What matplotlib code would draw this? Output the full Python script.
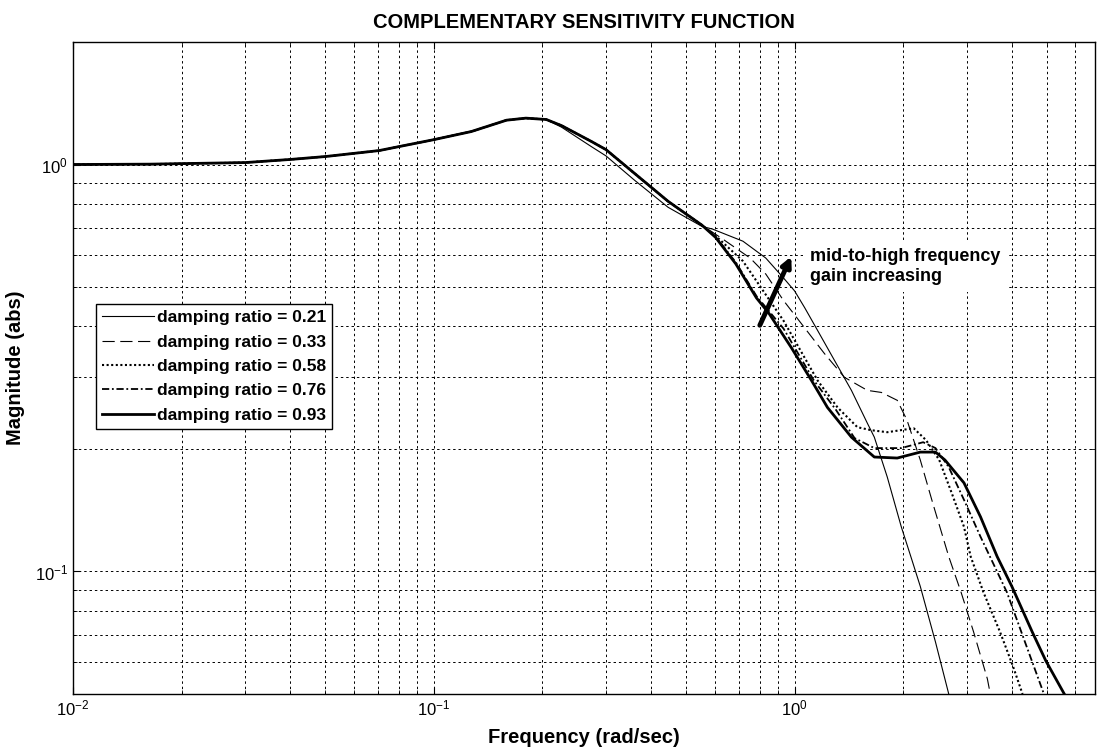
import numpy as np
import matplotlib
matplotlib.use("Agg")
import matplotlib.pyplot as plt

plt.rcParams['font.family'] = ['Liberation Sans', 'DejaVu Sans']
plt.rcParams['mathtext.fontset'] = 'custom'
plt.rcParams['mathtext.rm'] = 'Liberation Sans'

# shared low-frequency part of all five responses (frequency rad/sec, magnitude abs)
f_common = [0.01, 0.0163, 0.03, 0.04, 0.05, 0.0705, 0.1, 0.127, 0.159, 0.18, 0.205, 0.226, 0.274, 0.30, 0.36, 0.446, 0.553]
m_common = [1.0, 1.002, 1.011, 1.029, 1.046, 1.082, 1.151, 1.205, 1.285, 1.30, 1.29, 1.246, 1.138, 1.088, 0.951, 0.812, 0.71]

# damping ratio 0.21 (thin solid) - runs slightly below the trunk, then above it
f_021 = [0.01, 0.0163, 0.03, 0.04, 0.05, 0.0705, 0.1, 0.127, 0.159, 0.18, 0.205, 0.226, 0.274, 0.30, 0.36, 0.446,
         0.553, 0.592, 0.719, 0.832, 0.932, 1.0, 1.066, 1.158, 1.29, 1.437, 1.591, 1.663, 1.806, 1.975, 2.112,
         2.23, 2.457, 2.674]
m_021 = [1.0, 1.002, 1.011, 1.029, 1.046, 1.082, 1.151, 1.205, 1.285, 1.30, 1.29, 1.235, 1.105, 1.05, 0.915, 0.785,
         0.705, 0.694, 0.648, 0.589, 0.526, 0.489, 0.445, 0.391, 0.330, 0.2786, 0.2313, 0.2138, 0.1707, 0.1288, 0.107,
         0.0919, 0.0671, 0.05]

# tails after the trunk (f > 0.553)
f_033 = [0.632, 0.753, 0.832, 0.932, 1.045, 1.21, 1.374, 1.591, 1.739, 1.925, 2.049, 2.23, 2.413, 2.674, 2.893, 3.134, 3.421, 3.486]
m_033 = [0.656, 0.589, 0.538, 0.463, 0.406, 0.343, 0.300, 0.2786, 0.2754, 0.2634, 0.2353, 0.1879, 0.1475, 0.1088, 0.0889, 0.071, 0.0545, 0.05]

f_058 = [0.604, 0.719, 0.932, 1.158, 1.315, 1.493, 1.632, 1.806, 2.138, 2.313, 2.517, 2.724, 2.947, 3.076, 3.337, 3.71, 4.026, 4.282]
m_058 = [0.668, 0.579, 0.413, 0.2946, 0.253, 0.2262, 0.2224, 0.2199, 0.2249, 0.2103, 0.1879, 0.156, 0.1288, 0.1088, 0.0889, 0.071, 0.0586, 0.05]

f_076 = [0.604, 0.687, 0.784, 0.932, 1.13, 1.30, 1.466, 1.663, 1.975, 2.271, 2.457, 2.674, 2.947, 3.274, 3.876, 4.39, 4.909]
m_076 = [0.665, 0.575, 0.475, 0.395, 0.295, 0.25, 0.2127, 0.201, 0.201, 0.2078, 0.201, 0.1805, 0.150, 0.1218, 0.0889, 0.0656, 0.05]

f_093 = [0.604, 0.687, 0.784, 0.85, 0.979, 1.114, 1.233, 1.437, 1.663, 1.925, 2.23, 2.457, 2.61, 2.947, 3.274, 3.642, 4.0, 4.557, 4.97, 5.59]
m_093 = [0.662, 0.570, 0.470, 0.430, 0.355, 0.2946, 0.253, 0.2138, 0.1911, 0.190, 0.1965, 0.1965, 0.1879, 0.1651, 0.1363, 0.1088, 0.0919, 0.071, 0.0603, 0.05]

labels = ['damping ratio = 0.21', 'damping ratio = 0.33', 'damping ratio = 0.58',
          'damping ratio = 0.76', 'damping ratio = 0.93']

fig = plt.figure(figsize=(10.97, 7.52), dpi=100)
ax = fig.add_axes([73 / 1097, 1 - 694 / 752, (1095 - 73) / 1097, (694 - 42) / 752])

ax.plot(f_021, m_021, color='k', lw=0.8, ls='-', label=labels[0])
ax.plot(f_common + f_033, m_common + m_033, color='k', lw=0.8, ls=(0, (11, 5)), label=labels[1])
ax.plot(f_common + f_058, m_common + m_058, color='k', lw=1.5, ls=(0, (1, 1.2)), label=labels[2])
ax.plot(f_common + f_076, m_common + m_076, color='k', lw=1.3, ls=(0, (4, 1.5, 1, 1.5)), label=labels[3])
ax.plot(f_common + f_093, m_common + m_093, color='k', lw=2.0, ls='-', label=labels[4])

ax.set_xscale('log')
ax.set_yscale('log')
ax.set_xlim(0.01, 6.8)
ax.set_ylim(0.05, 2.0)

ax.grid(True, which='both', color='k', ls=(0, (2.5, 3)), lw=0.7)
ax.tick_params(which='both', direction='in', top=True, right=True, labelsize=12)
ax.tick_params(which='major', length=5)
ax.tick_params(which='minor', length=3)
ax.yaxis.set_minor_formatter(matplotlib.ticker.NullFormatter())
ax.xaxis.set_minor_formatter(matplotlib.ticker.NullFormatter())
for s in ax.spines.values():
    s.set_linewidth(1.0)

ax.set_title('COMPLEMENTARY SENSITIVITY FUNCTION', fontsize=14.5, fontweight='bold', pad=10)
ax.set_xlabel('Frequency (rad/sec)', fontsize=14.5, fontweight='bold')
ax.set_ylabel('Magnitude (abs)', fontsize=14.5, fontweight='bold')
ax.xaxis.set_label_coords(0.5, -0.052)
ax.yaxis.set_label_coords(-0.047, 0.5)

leg = ax.legend(loc='upper left', bbox_to_anchor=(0.0225, 0.598), borderaxespad=0,
                prop={'weight': 'bold', 'size': 12.5}, handlelength=3.0,
                handletextpad=0.15, labelspacing=0.53, borderpad=0.35, fancybox=False,
                framealpha=1, edgecolor='k')
leg.get_frame().set_linewidth(1.0)

ax.annotate('', xy=(0.986, 0.603), xytext=(0.795, 0.397),
            arrowprops=dict(arrowstyle='-|>', lw=3.5, color='k', mutation_scale=14))
ax.text(1.10, 0.625, 'mid-to-high frequency\ngain increasing', fontsize=13,
        fontweight='bold', va='top', ha='left', linespacing=1.25,
        bbox=dict(facecolor='white', edgecolor='none', pad=5))

fig.savefig('out.png', dpi=100)
